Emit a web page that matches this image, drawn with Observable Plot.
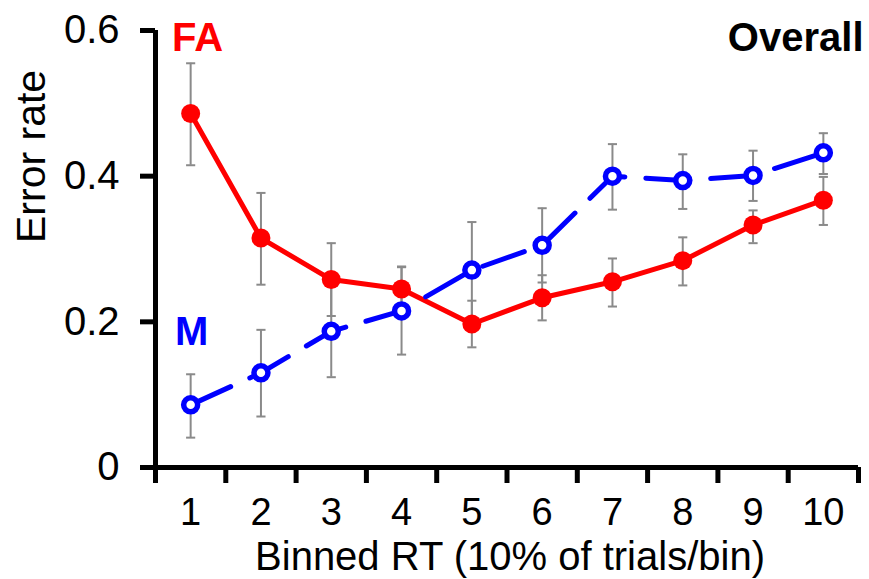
<!DOCTYPE html>
<html>
<head>
<meta charset="utf-8">
<script src="https://cdn.jsdelivr.net/npm/d3@7"></script>
<script src="https://cdn.jsdelivr.net/npm/@observablehq/plot@0.6"></script>
<style>
  html, body { margin: 0; padding: 0; background: #fff; }
  svg { display: block; }
</style>
</head>
<body>
<div id="chart"></div>
<script>
// Bins (categories)
const bins = [1, 2, 3, 4, 5, 6, 7, 8, 9, 10];
// False alarm (FA) error rate and error-bar bounds
const faMean = [0.486, 0.315, 0.258, 0.245, 0.197, 0.233, 0.255, 0.284, 0.333, 0.367];
const faLow  = [0.415, 0.251, 0.208, 0.214, 0.165, 0.202, 0.221, 0.250, 0.308, 0.333];
const faHigh = [0.555, 0.377, 0.308, 0.276, 0.229, 0.264, 0.287, 0.316, 0.353, 0.399];
// Miss (M) error rate and error-bar bounds
const mMean = [0.086, 0.130, 0.187, 0.215, 0.271, 0.305, 0.400, 0.394, 0.401, 0.432];
const mLow  = [0.041, 0.070, 0.124, 0.155, 0.205, 0.254, 0.354, 0.355, 0.366, 0.403];
const mHigh = [0.128, 0.189, 0.250, 0.275, 0.337, 0.356, 0.444, 0.430, 0.435, 0.459];
// Tick labels
const yTicks = [0, 0.2, 0.4, 0.6];
const yTickLabels = ["0", "0.2", "0.4", "0.6"];
const xLabel = "Binned RT (10% of trials/bin)";
const yLabel = "Error rate";

const fa = bins.map((b, i) => ({bin: b, v: faMean[i], lo: faLow[i], hi: faHigh[i]}));
const m  = bins.map((b, i) => ({bin: b, v: mMean[i], lo: mLow[i], hi: mHigh[i]}));
const both = [...m, ...fa];
const boundaries = [bins[0] - 0.5, ...bins.map(b => b + 0.5)];
const capHalf = 0.065;

const font = "'Liberation Sans', Arial, sans-serif";
const errColor = "#8a8a8a";

const chart = Plot.plot({
  width: 869,
  height: 579,
  marginLeft: 155,
  marginRight: 11,
  marginTop: 30,
  marginBottom: 112,
  style: {fontFamily: font, background: "#fff", color: "#000"},
  x: {domain: [boundaries[0], boundaries[boundaries.length - 1]]},
  y: {domain: [0, 0.6]},
  marks: [
    // error bars
    Plot.ruleX(both, {x: "bin", y1: "lo", y2: "hi", stroke: errColor, strokeWidth: 2}),
    Plot.link(both, {x1: d => d.bin - capHalf, x2: d => d.bin + capHalf, y1: "lo", y2: "lo", stroke: errColor, strokeWidth: 2}),
    Plot.link(both, {x1: d => d.bin - capHalf, x2: d => d.bin + capHalf, y1: "hi", y2: "hi", stroke: errColor, strokeWidth: 2}),
    // FA line + dots
    Plot.line(fa, {x: "bin", y: "v", stroke: "#ff0000", strokeWidth: 5}),
    Plot.dot(fa, {x: "bin", y: "v", r: 9.5, fill: "#ff0000", stroke: "none"}),
    // M dashed line + open circles
    Plot.line(m, {x: "bin", y: "v", stroke: "#0000ff", strokeWidth: 5, strokeDasharray: "44,21"}),
    Plot.dot(m, {x: "bin", y: "v", r: 7, fill: "#fff", stroke: "#0000ff", strokeWidth: 5.5}),
    // axes
    Plot.axisY({ticks: yTicks, tickFormat: (d) => yTickLabels[yTicks.indexOf(d)], tickSize: 15, tickPadding: 21, strokeWidth: 5, fontSize: 40, label: null}),
    Plot.axisX({ticks: boundaries, tickFormat: () => "", tickSize: 16, strokeWidth: 5, label: null}),
    Plot.axisX({ticks: bins, tickFormat: d => String(d), tickSize: 0, tickPadding: 31, fontSize: 38, label: null}),
    Plot.ruleX([boundaries[0]], {y1: 0, y2: 0.6, stroke: "#000", strokeWidth: 5}),
    Plot.ruleY([0], {x1: boundaries[0], x2: boundaries[boundaries.length - 1], stroke: "#000", strokeWidth: 5}),
    // axis titles
    Plot.text([xLabel], {frameAnchor: "bottom", text: d => d, dx: 3, dy: 90, fontSize: 40, lineAnchor: "middle"}),
    Plot.text([yLabel], {frameAnchor: "left", text: d => d, dx: -124, dy: -6, rotate: -90, fontSize: 41, lineAnchor: "middle"}),
    // annotations
    Plot.text(["FA"], {x: bins[0], y: 0.6, text: d => d, dx: 7, dy: 8, fontSize: 40, fontWeight: "bold", fill: "#ff0000", lineAnchor: "middle"}),
    Plot.text(["M"], {x: bins[0], y: 0.186, text: d => d, dx: 1, fontSize: 40, fontWeight: "bold", fill: "#0000ff", lineAnchor: "middle"}),
    Plot.text(["Overall"], {frameAnchor: "top-right", text: d => d, dx: 5, dy: 8, fontSize: 40, fontWeight: "bold", fill: "#000", textAnchor: "end", lineAnchor: "middle"})
  ]
});
document.getElementById("chart").appendChild(chart);
</script>
</body>
</html>
